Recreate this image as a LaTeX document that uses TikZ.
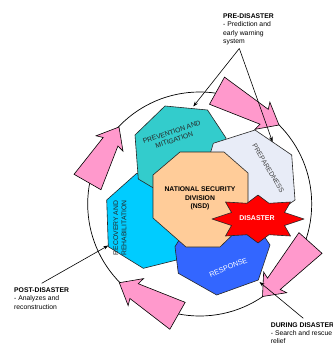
\documentclass[tikz,border=0pt]{standalone}
\usepackage{fontspec}
\setmainfont{Liberation Sans}
\usetikzlibrary{calc,arrows.meta}
\definecolor{pinkc}{HTML}{FF99CC}
\definecolor{tealc}{HTML}{33CCCC}
\definecolor{prepc}{HTML}{E8ECF7}
\definecolor{cyanc}{HTML}{00CCFF}
\definecolor{bluec}{HTML}{3366FF}
\definecolor{nsdc}{HTML}{FFCC99}
\newcommand\pinkarrow[3]{%
  \coordinate (#1-t) at #2;
  \coordinate (#1-p) at #3;
  \coordinate (#1-b) at ($(#1-p)!19pt!(#1-t)$);
  \coordinate (#1-k) at ($(#1-p)!17pt!(#1-t)$);
  \filldraw[pinkarr] ($(#1-t)!15.5pt!90:(#1-p)$) -- ($(#1-k)!8.5pt!90:(#1-p)$)
    -- ($(#1-b)!15.5pt!90:(#1-p)$) -- (#1-p) -- ($(#1-b)!15.5pt!-90:(#1-p)$)
    -- ($(#1-k)!8.5pt!-90:(#1-p)$) -- ($(#1-t)!15.5pt!-90:(#1-p)$) -- cycle;}
\begin{document}
\begin{tikzpicture}[x=1pt,y=-1pt,
  petal/.style={draw=black!85, line width=0.6pt, line join=round},
  pinkarr/.style={fill=pinkc, draw=black, line width=0.6pt, line join=miter},
  lbl/.style={font=\fontsize{6.8}{8.4}\selectfont, inner sep=0pt, align=left, anchor=north west},
  intext/.style={font=\fontsize{6.8}{8.3}\selectfont, inner sep=0pt, align=center},
  callout/.style={draw=black, line width=0.6pt, -{Stealth[length=5pt,width=3.6pt]}}]
\fill[white] (0,0) rectangle (332,345);
\useasboundingbox (0,0) rectangle (332,345);
% ring
\draw[line width=0.7pt] (199.7,204) circle[radius=112pt];
% petals
\filldraw[petal, fill=cyanc] (136.7,173.3) -- (106.7,200) -- (108.3,246.7) -- (143.3,268.3) -- (176.7,260) -- (196,224) -- (179,185) -- cycle;
\filldraw[petal, fill=tealc] (135,135) -- (165,106) -- (207.5,110) -- (226,138) -- (222,183.5) -- (179.5,203.5) -- (138.3,179) -- cycle;
\filldraw[petal, fill=prepc] (213.3,143.3) -- (255,130) -- (291.7,155) -- (295,200) -- (258,226) -- (216,213) -- (201,185) -- cycle;
\filldraw[petal, fill=bluec] (175,246.7) -- (178.3,273.3) -- (216.7,295) -- (258.3,280) -- (270,245) -- (246,209) -- (198,209) -- cycle;
% centre octagon
\filldraw[petal, fill=nsdc] (180,152) -- (224,152) -- (248,173) -- (248,220) -- (220,247) -- (186,247) -- (153,218) -- (153,175) -- cycle;
% disaster star
\filldraw[petal, fill=red] (304,219) -- (284.5,212.5) -- (290.5,202) -- (269,203.3) -- (258,195) -- (247,203.3) -- (225.5,202) -- (231.5,212.5) -- (212,219) -- (231.5,225.5) -- (225.5,236) -- (247,234.7) -- (258,243) -- (269,234.7) -- (290.5,236) -- (284.5,225.5) -- cycle;
% texts inside
\node[intext, rotate=18.5, text=black!85] (prev) at (173,136) {PREVENTION AND\\MITIGATION};
\node[intext, rotate=-59, text=black!75] (prep) at (268.3,168.3) {PREPAREDNESS};
\node[intext, rotate=90, text=black!85] (recov) at (120,228) {RECOVERY AND\\REHABILITATION};
\node[intext, rotate=21.5, text=white, font=\fontsize{7.2}{8.4}\selectfont] (resp) at (228.3,267.5) {RESPONSE};
\node[intext, font=\bfseries\fontsize{6.8}{8.3}\selectfont] (nsd) at (200,198.5) {NATIONAL SECURITY\\DIVISION\\(NSD)};
\node[intext, text=white, font=\bfseries\fontsize{7}{8.4}\selectfont] (dis) at (257,218) {DISASTER};
% pink cycle arrows
\pinkarrow{a1}{(217,90.7)}{(279,125)}
\pinkarrow{a2}{(310.5,243)}{(262.5,296.5)}
\pinkarrow{a3}{(177.5,315.8)}{(119.3,282.7)}
\pinkarrow{a4}{(87.5,182)}{(119,127)}
% labels
\node[lbl] (pre) at (223,13.4) {\textbf{PRE-DISASTER}\\- Prediction and\\early warning\\system};
\node[lbl, font=\fontsize{6.8}{8.2}\selectfont] (post) at (14,287.8) {\textbf{POST-DISASTER}\\- Analyzes and\\reconstruction};
\node[lbl, font=\fontsize{6.8}{8.2}\selectfont] (during) at (270.7,322.4) {\textbf{DURING DISASTER}\\- Search and rescue\\relief};
% callouts
\coordinate (preapex) at (239.3,48.5);
\coordinate (prevtop) at (193.3,106.5);
\coordinate (prepedge) at (272.5,141.8);
\coordinate (postfoot) at (41.7,283.3);
\coordinate (recovpt) at (108.3,245.5);
\coordinate (duringfoot) at (303.3,318.3);
\coordinate (resppt) at (259.5,282);
\draw[callout] (preapex) -- (prevtop);
\draw[callout] (preapex) -- (prepedge);
\draw[callout] (postfoot) -- (recovpt);
\draw[callout] (duringfoot) -- (resppt);
\end{tikzpicture}
\end{document}
